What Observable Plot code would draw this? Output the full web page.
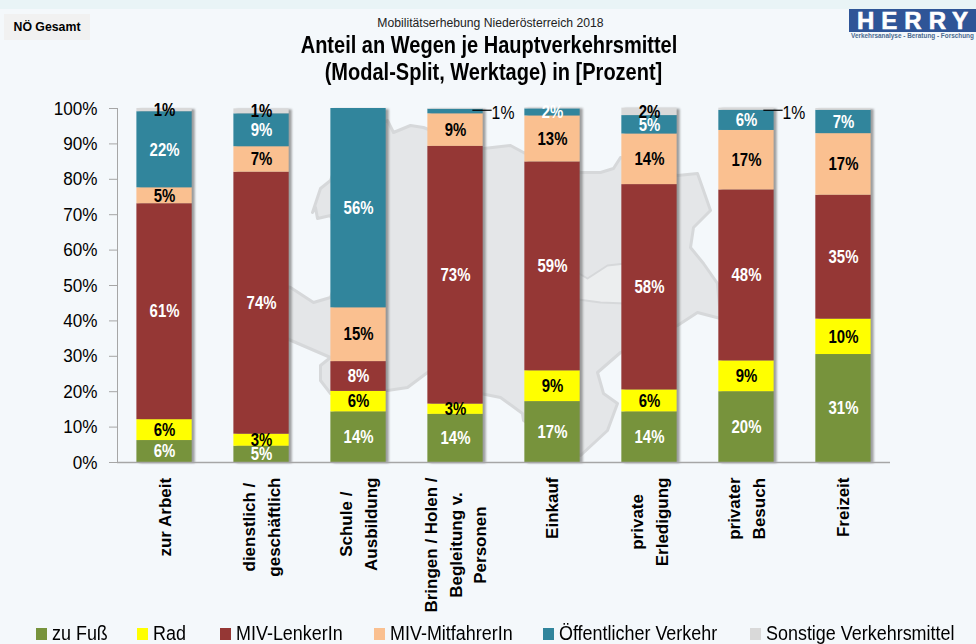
<!DOCTYPE html>
<html lang="de"><head><meta charset="utf-8">
<script src="https://cdn.jsdelivr.net/npm/d3@7"></script>
<script src="https://cdn.jsdelivr.net/npm/@observablehq/plot@0.6"></script>
<style>
html,body{margin:0;padding:0;background:#f4f8fb;}
#page{position:relative;width:976px;height:644px;overflow:hidden;background:#f4f8fb;font-family:"Liberation Sans",Arial,sans-serif;color:#000;}
#page>svg,#page>figure{position:absolute;left:0;top:0;margin:0;}
.abs{position:absolute;white-space:nowrap;}
</style></head><body>
<div id="page"></div>
<script>
const categories = ["zur Arbeit","dienstlich /\ngeschäftlich","Schule /\nAusbildung","Bringen / Holen /\nBegleitung v.\nPersonen","Einkauf","private\nErledigung","privater\nBesuch","Freizeit"];
const seriesNames = ["zu Fuß","Rad","MIV-LenkerIn","MIV-MitfahrerIn","Öffentlicher Verkehr","Sonstige Verkehrsmittel"];
const seriesColors = ["#77933c","#ffff00","#953735","#fac090","#31859c","#d9d9d9"];
const zuFuss   = [6.2,4.6,14.3,13.6,17.2,14.3,20.0,30.5];
const rad      = [5.9,3.4,5.8,2.9,8.7,6.2,8.7,10.0];
const lenker   = [61.0,74.0,8.4,72.8,59.0,58.0,48.3,35.0];
const mitfahrer= [4.5,7.2,15.2,9.2,13.0,14.3,16.8,17.4];
const oev      = [21.5,9.3,56.3,1.3,2.0,5.2,5.7,6.6];
const sonstige = [0.9,1.4,0,0.2,0.3,2.1,0.6,0.5];
const seriesValues = [zuFuss,rad,lenker,mitfahrer,oev,sonstige];
const darkLabelSeries = ["Rad","MIV-MitfahrerIn","Sonstige Verkehrsmittel"];
const yTicks = [0,10,20,30,40,50,60,70,80,90,100];
const outsideLabels = [{cat:categories[3],y:99.5,text:"1%"},{cat:categories[6],y:99.5,text:"1%"}];
const outsideKeys = [categories[3]+"|Öffentlicher Verkehr"];
const legendX = [36,137,220,374,543,750];
// backdrop silhouette of Lower Austria (map units)
const mapX = [387,393,410,423,470,483,510,523,580,600,613,620,677,697,703,710,693,690,703,717,720,697,677,620,597,603,617,607,580,523,522,500,480,427,407,387,330,320,320,330,286,286,290,313,330,345,330,317,315,312,320,330,345];
const mapY = [120,132,125,127,146,148,145,152,172,172,168,157,175,173,190,210,227,247,263,283,318,312,325,352,372,393,403,430,455,420,413,397,393,372,387,390,393,380,365,357,338,286,287,302,297,255,215,218,207,212,188,180,140];
const viennaX = [570,587,607,625,640,625,600,570];
const viennaY = [268,278,265,263,283,303,302,298];

const rows = categories.flatMap((c,i)=>seriesNames.map((s,j)=>({cat:c,series:s,val:seriesValues[j][i]})));
const totals = categories.map((c,i)=>({cat:c,total:d3.sum(seriesValues,a=>a[i])}));
const FONT = '"Liberation Sans",Arial,sans-serif';

function labelOf(d){
  if (d.val<0.85 || outsideKeys.includes(d.cat+"|"+d.series)) return "";
  return Math.round(d.val)+"%";
}
const stackOpts = {x:"cat",y:"val",z:"series",order:seriesNames};

const page = document.getElementById("page");

const bg = Plot.plot({width:976,height:644,margin:0,style:{background:"transparent"},
  x:{domain:[0,976],axis:null},y:{domain:[644,0],axis:null},
  marks:[
    Plot.line(mapX.map((x,i)=>({x,y:mapY[i]})),{x:"x",y:"y",curve:"linear-closed",fill:"#e4e6e8",stroke:"#d6d8da",strokeWidth:3,strokeLinejoin:"round"}),
    Plot.line(viennaX.map((x,i)=>({x,y:viennaY[i]})),{x:"x",y:"y",curve:"linear-closed",fill:"#eceeef",stroke:"#d6d8da",strokeWidth:2})
  ]});
page.appendChild(bg);

const ctx = document.createElement("canvas").getContext("2d");
ctx.font = 'bold 17px "Liberation Sans"';
const labelMarks = categories.map(c=>{
  const w = d3.max(c.split("\n"),l=>ctx.measureText(l).width);
  return Plot.text([c],{x:d=>d,text:d=>d,frameAnchor:"bottom",rotate:-90,textAnchor:"middle",lineAnchor:"middle",lineHeight:1.47,
    dx:-2,dy:15+w/2,fontSize:17,fontWeight:"bold",fontFamily:"Liberation Sans",fill:"#000"});
});

const chart = Plot.plot({
  width:976,height:644,
  marginTop:108,marginBottom:182,marginLeft:117,marginRight:86,
  style:{background:"transparent",overflow:"visible"},
  x:{domain:categories,paddingInner:0.43,paddingOuter:0.2,align:0.5,round:false,axis:null},
  y:{domain:[0,100],axis:null},
  color:{domain:seriesNames,range:seriesColors},
  marks:[
    Plot.barY(totals,{x:"cat",y:"total",dx:3,dy:1,fill:"#6b6b6b",fillOpacity:.65,imageFilter:"blur(1.3px)"}),
    Plot.barY(rows,{...stackOpts,fill:"series"}),
    Plot.frame({anchor:"left",stroke:"#a6a6a6"}),
    Plot.ruleY([0],{stroke:"#a6a6a6",strokeWidth:1.5}),
    Plot.axisY({ticks:yTicks,tickFormat:d=>d+"%",tickSize:8,tickPadding:12,stroke:"#a6a6a6",fontSize:19,fontFamily:FONT,color:"#000",label:null,tickFill:"#000"}),
    Plot.text(rows,Plot.stackY({...stackOpts,text:d=>darkLabelSeries.includes(d.series)?"":labelOf(d),fill:"#fff",fontWeight:"bold",fontSize:18,fontFamily:FONT})),
    Plot.text(rows,Plot.stackY({...stackOpts,text:d=>darkLabelSeries.includes(d.series)?labelOf(d):"",fill:"#000",fontWeight:"bold",fontSize:18,fontFamily:FONT})),
    Plot.tickY(outsideLabels,{x:"cat",y:"y",dx:45,insetRight:36,stroke:"#000",strokeWidth:1.2}),
    Plot.text(outsideLabels,{x:"cat",y:"y",text:"text",dx:47.5,dy:3,textAnchor:"middle",fontSize:19,fontFamily:FONT,fill:"#000"}),
    ...labelMarks
  ]});
page.appendChild(chart);

// the reference's text is horizontally condensed
chart.querySelectorAll("text").forEach(t=>{
  if (!t.textContent || (t.getAttribute("transform")||"").includes("rotate")) return;
  const inAxis = t.closest('g[aria-label="y-axis tick label"]');
  const scale = inAxis ? .9 : .83;
  t.setAttribute("textLength",t.getComputedTextLength()*scale);
  t.setAttribute("lengthAdjust","spacingAndGlyphs");
});

function add(html,style){const d=document.createElement("div");d.className="abs";d.innerHTML=html;Object.assign(d.style,style);page.appendChild(d);return d;}
add("",{left:"0",top:"0",width:"976px",height:"9px",background:"#e9f4f6"});
add("NÖ Gesamt",{left:"4px",top:"14px",width:"86px",height:"26px",lineHeight:"27px",background:"#f1f1f1",textAlign:"center",fontWeight:"bold",fontSize:"12.3px"});
add("Mobilitätserhebung Niederösterreich 2018",{left:"0",width:"981px",top:"16px",textAlign:"center",fontSize:"12.2px",color:"#222"});
add("Anteil an Wegen je Hauptverkehrsmittel",{left:"0",width:"978px",top:"32px",textAlign:"center",fontSize:"23px",fontWeight:"bold",transform:"scaleX(.87)"});
add("(Modal-Split, Werktage) in [Prozent]",{left:"0",width:"987px",top:"59px",textAlign:"center",fontSize:"23px",fontWeight:"bold",transform:"scaleX(.87)"});
add("HERRY",{left:"849px",top:"9px",width:"127px",height:"23px",lineHeight:"24px",background:"#2f5597",color:"#fff",fontWeight:"bold",fontSize:"24px",letterSpacing:"7px",paddingLeft:"8px",boxSizing:"border-box",webkitTextStroke:".6px #fff"});
add("Verkehrsanalyse - Beratung - Forschung",{left:"851px",top:"32px",fontSize:"6.4px",fontWeight:"bold",color:"#4a6a8f",lineHeight:"8px"});
seriesNames.forEach((s,i)=>{
  add("",{left:legendX[i]+"px",top:"628px",width:"11px",height:"12px",background:seriesColors[i]});
  add(s,{left:(legendX[i]+16)+"px",top:"623px",fontSize:"19.5px",lineHeight:"21px",transform:"scaleX(.92)",transformOrigin:"left center"});
});
</script>
</body></html>
